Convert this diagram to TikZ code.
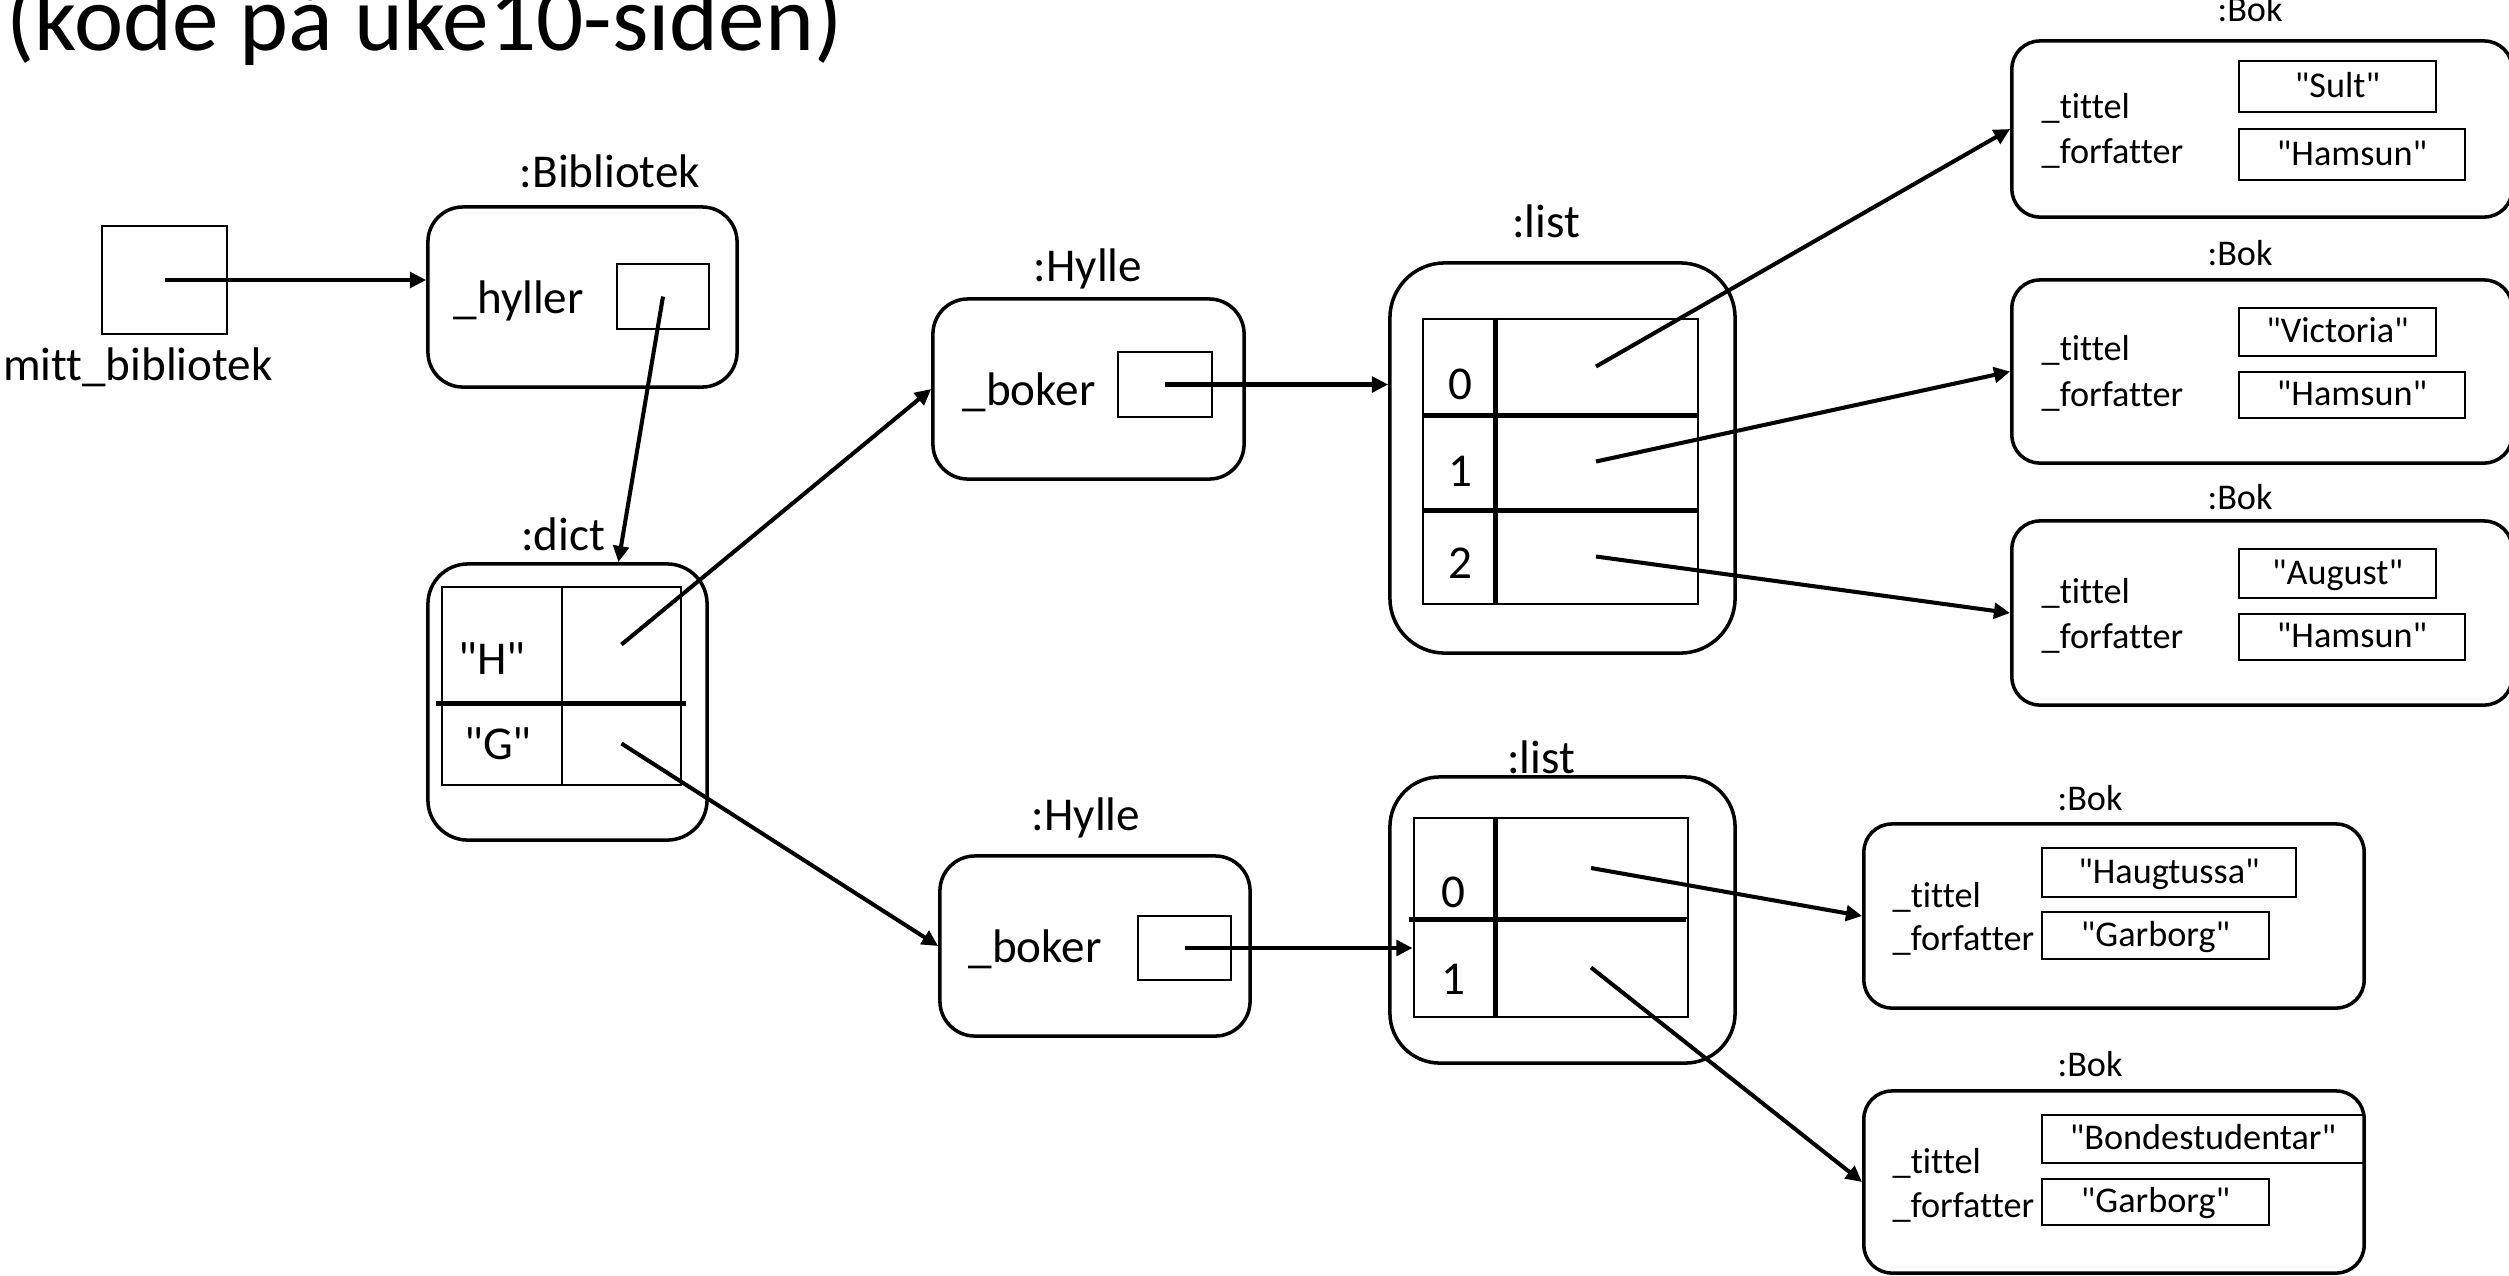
\documentclass[tikz,border=0pt]{standalone}
\usepackage{fontspec}
\setmainfont{Carlito}[Ligatures={TeXOff,NoCommon}]
\usetikzlibrary{arrows.meta,calc}

\begin{document}
\begin{tikzpicture}[
    x=0.01cm, y=-0.01cm,
    >={Triangle[length=4.6pt,width=4.4pt]},
    font=\fontsize{13.4}{16}\selectfont,
    obj/.style={
        draw,
        rounded corners=0.35cm,
        line width=1pt,
        inner sep=0pt
    },
    refbox/.style={draw, line width=0.7pt, inner sep=0pt},
    cell/.style={draw, line width=0.8pt, inner sep=0pt},
    divider/.style={line width=1.3pt},
    lbl/.style={anchor=base, inner sep=0pt},
    fld/.style={anchor=base west, inner sep=0pt},
    small/.style={font=\fontsize{10.3}{12}\selectfont},
    valbox/.style={
        draw,
        line width=0.7pt,
        inner sep=0pt,
        small,
        text height=0.27cm,
        text depth=0.055cm
    },
    bok/.style={obj, rounded corners=0.28cm, minimum width=5cm},
    ptr/.style={->, line width=1.15pt}
]
\useasboundingbox (0,0) rectangle (2509,1275);

\node[fld, font=\fontsize{26.5}{30}\selectfont] (title) at (6,50) {(kode på uke10-siden)};

% variable
\node[refbox, line width=0.8pt, minimum width=1.25cm, minimum height=1.08cm] (mitt) at (164.5,280) {};
\node[lbl] (mittlbl) at (138,380) {mitt\_bibliotek};

% Bibliotek
\node[obj, minimum width=3.09cm, minimum height=1.80cm] (bib) at (582.5,297) {};
\node[lbl] (biblbl) at (610,187) {:Bibliotek};
\node[fld] (hyller) at (453,313) {\_hyller};
\node[refbox, minimum width=0.92cm, minimum height=0.65cm] (hylref) at (663,296.5) {};

% dict
\node[obj, rounded corners=0.4cm, minimum width=2.79cm, minimum height=2.76cm] (dict) at (567.5,702) {};
\node[lbl] (dictlbl) at (563,550) {:dict};
\node[cell, minimum width=1.20cm, minimum height=1.15cm] (kH) at (502,644.5) {};
\node[cell, minimum width=1.19cm, minimum height=1.15cm] (vH) at (621.5,644.5) {};
\node[cell, minimum width=1.20cm, minimum height=0.83cm] (kG) at (502,743.5) {};
\node[cell, minimum width=1.19cm, minimum height=0.83cm] (vG) at (621.5,743.5) {};
\node[lbl] (keyH) at (492,674) {"H"};
\node[lbl] (keyG) at (498,759) {"G"};
\draw[divider] ($(kH.south west)+(-5,0)$) -- ($(vH.south east)+(4,0)$);

% Hylle 1
\node[obj, minimum width=3.11cm, minimum height=1.80cm] (hylle1) at (1088.5,389) {};
\node[lbl] (hylle1lbl) at (1088,281) {:Hylle};
\node[fld] (boker1) at (962,405) {\_boker};
\node[refbox, minimum width=0.94cm, minimum height=0.65cm] (ref1) at (1165,384.5) {};

% Hylle 2
\node[obj, minimum width=3.10cm, minimum height=1.80cm] (hylle2) at (1095,946) {};
\node[lbl] (hylle2lbl) at (1086,830) {:Hylle};
\node[fld] (boker2) at (968,962) {\_boker};
\node[refbox, minimum width=0.93cm, minimum height=0.64cm] (ref2) at (1184.5,948) {};

% list 1
\node[obj, rounded corners=0.55cm, minimum width=3.45cm, minimum height=3.90cm] (list1) at (1562.5,458) {};
\node[lbl] (list1lbl) at (1546,237) {:list};
\node[cell, minimum width=0.71cm, minimum height=0.95cm] (l1i0) at (1458.5,366.5) {};
\node[cell, minimum width=2.04cm, minimum height=0.95cm] (l1v0) at (1596,366.5) {};
\node[cell, minimum width=0.71cm, minimum height=0.95cm] (l1i1) at (1458.5,461.5) {};
\node[cell, minimum width=2.04cm, minimum height=0.95cm] (l1v1) at (1596,461.5) {};
\node[cell, minimum width=0.71cm, minimum height=0.95cm] (l1i2) at (1458.5,556.5) {};
\node[cell, minimum width=2.04cm, minimum height=0.95cm] (l1v2) at (1596,556.5) {};
\node[lbl] (n10) at (1460,399) {0};
\node[lbl] (n11) at (1460,486) {1};
\node[lbl] (n12) at (1460,578) {2};
\draw[divider] (l1i0.south west) -- (l1v0.south east);
\draw[divider] (l1i1.south west) -- (l1v1.south east);
\draw[divider] (l1i0.north east) -- (l1i2.south east);

% list 2
\node[obj, rounded corners=0.5cm, minimum width=3.45cm, minimum height=2.86cm] (list2) at (1562.5,920) {};
\node[lbl] (list2lbl) at (1541,773) {:list};
\node[cell, minimum width=0.80cm, minimum height=1.00cm] (l2i0) at (1454,868) {};
\node[cell, minimum width=1.94cm, minimum height=1.00cm] (l2v0) at (1591,868) {};
\node[cell, minimum width=0.80cm, minimum height=0.99cm] (l2i1) at (1454,967.5) {};
\node[cell, minimum width=1.94cm, minimum height=0.99cm] (l2v1) at (1591,967.5) {};
\node[lbl] (n20) at (1453,907) {0};
\node[lbl] (n21) at (1453,994) {1};
\draw[divider] ($(l2i0.south west)+(-4,0)$) -- ($(l2v0.south east)+(-3,0)$);
\draw[divider] (l2i0.north east) -- (l2i1.south east);

% Bok objects
\node[bok, minimum height=1.76cm] (bok1) at (2262,129) {};
\node[lbl, small] at (2250,21) {:Bok};
\node[fld, small] at (2041,118) {\_tittel};
\node[fld, small] at (2041,163) {\_forfatter};
\node[valbox, minimum width=1.97cm, minimum height=0.51cm] (tit1) at (2337.5,86.5) {"Sult"};
\node[valbox, minimum width=2.26cm, minimum height=0.51cm] (aut1) at (2352,154.5) {"Hamsun"};

\node[bok, minimum height=1.83cm] (bok2) at (2262,371.5) {};
\node[lbl, small] at (2240,265) {:Bok};
\node[fld, small] at (2041,360) {\_tittel};
\node[fld, small] at (2041,406) {\_forfatter};
\node[valbox, minimum width=1.97cm, minimum height=0.48cm] (tit2) at (2337.5,332) {"Victoria"};
\node[valbox, minimum width=2.26cm, minimum height=0.46cm] (aut2) at (2352,395) {"Hamsun"};

\node[bok, minimum height=1.84cm] (bok3) at (2262,613) {};
\node[lbl, small] at (2240,509) {:Bok};
\node[fld, small] at (2041,603) {\_tittel};
\node[fld, small] at (2041,648) {\_forfatter};
\node[valbox, minimum width=1.97cm, minimum height=0.49cm] (tit3) at (2337.5,573.5) {"August"};
\node[valbox, minimum width=2.26cm, minimum height=0.46cm] (aut3) at (2352,637) {"Hamsun"};

\node[bok, minimum height=1.84cm] (bok4) at (2114,916) {};
\node[lbl, small] at (2090,810) {:Bok};
\node[fld, small] at (1892,907) {\_tittel};
\node[fld, small] at (1892,950) {\_forfatter};
\node[valbox, minimum width=2.54cm, minimum height=0.49cm] (tit4) at (2169,872.5) {"Haugtussa"};
\node[valbox, minimum width=2.27cm, minimum height=0.47cm] (aut4) at (2155.5,935.5) {"Garborg"};

\node[bok, minimum height=1.82cm] (bok5) at (2114,1182) {};
\node[lbl, small] at (2090,1076) {:Bok};
\node[fld, small] at (1892,1173) {\_tittel};
\node[fld, small] at (1892,1217) {\_forfatter};
\node[valbox, minimum width=3.22cm, minimum height=0.48cm] (tit5) at (2203,1139) {"Bondestudentar"};
\node[valbox, minimum width=2.27cm, minimum height=0.46cm] (aut5) at (2155.5,1202) {"Garborg"};

% references
\draw[ptr] (mitt.center) -- (mitt.center -| bib.west);
\draw[ptr] (hylref.center) -- (dict.70);
\draw[ptr] (vH.center) -- (hylle1.west);
\draw[ptr] (vG.center) -- (hylle2.west);
\draw[ptr] (ref1.center) -- (ref1.center -| list1.west);
\draw[ptr] (ref2.center) -- (ref2.center -| l2i0.west);
\draw[ptr] (l1v0.center) -- (bok1.west);
\draw[ptr] (l1v1.center) -- (bok2.west);
\draw[ptr] (l1v2.center) -- (bok3.west);
\draw[ptr] (l2v0.center) -- (bok4.west);
\draw[ptr] (l2v1.center) -- (bok5.west);
\end{tikzpicture}
\end{document}
